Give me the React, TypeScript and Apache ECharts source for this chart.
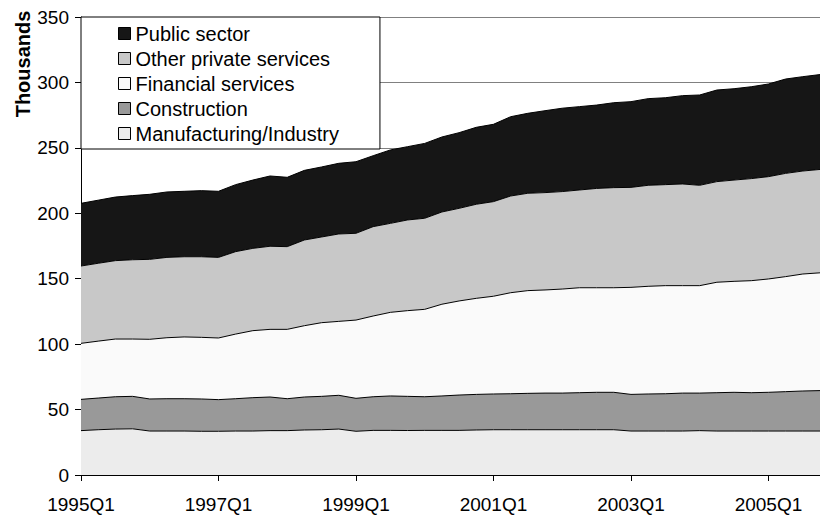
import React, { useEffect, useRef } from "react";
import * as echarts from "echarts";

// Quarterly employment by sector, thousands (1995Q1 – 2005Q4)
const years = [1995, 1996, 1997, 1998, 1999, 2000, 2001, 2002, 2003, 2004, 2005];
const quarters: string[] = [];
years.forEach((y) => {
  for (let q = 1; q <= 4; q++) quarters.push(`${y}Q${q}`);
});

const manufacturing = [
  33.9, 34.6, 35.1, 35.3, 33.6, 33.6, 33.6, 33.4, 33.4, 33.6, 33.6, 33.9, 33.9, 34.4, 34.6,
  35.1, 33.4, 34.1, 34.1, 34.0, 34.1, 34.1, 34.1, 34.4, 34.6, 34.6, 34.6, 34.6, 34.6, 34.6,
  34.6, 34.6, 33.6, 33.6, 33.6, 33.6, 33.9, 33.6, 33.6, 33.6, 33.6, 33.6, 33.6, 33.6,
];
const construction = [
  23.9, 24.2, 24.7, 24.8, 24.5, 24.7, 24.7, 24.7, 24.2, 24.7, 25.5, 25.7, 24.4, 25.2, 25.5,
  25.8, 25.2, 25.7, 26.3, 26.1, 25.7, 26.3, 27.0, 27.2, 27.3, 27.5, 27.8, 28.0, 28.0, 28.3,
  28.6, 28.6, 28.0, 28.3, 28.5, 29.0, 28.7, 29.3, 29.6, 29.3, 29.6, 30.1, 30.6, 30.9,
];
const financial = [
  42.8, 43.5, 44.1, 43.8, 45.6, 46.6, 47.2, 47.1, 47.1, 49.4, 51.2, 51.7, 53.0, 54.5, 56.3,
  56.5, 59.8, 61.7, 63.9, 65.5, 66.8, 70.1, 71.9, 73.4, 74.7, 77.2, 78.5, 78.8, 79.5, 80.2,
  79.9, 79.9, 81.8, 82.3, 82.6, 82.1, 82.1, 84.4, 84.8, 85.6, 86.6, 87.9, 89.4, 90.0,
];
const otherPrivate = [
  59.1, 59.5, 59.9, 60.6, 61.1, 61.4, 61.3, 61.6, 61.6, 63.0, 62.9, 63.5, 63.2, 65.5, 65.5,
  66.8, 66.3, 68.3, 68.0, 69.3, 69.6, 70.5, 70.8, 71.9, 72.3, 73.9, 74.4, 74.4, 74.5, 74.7,
  75.9, 76.5, 76.4, 77.2, 77.2, 77.7, 76.7, 76.9, 77.4, 78.0, 78.2, 78.9, 78.7, 79.0,
];
const publicSector = [
  47.9, 48.2, 48.6, 49.0, 49.7, 50.0, 50.0, 50.5, 50.5, 51.2, 52.2, 53.7, 53.0, 53.2, 53.5,
  54.0, 54.7, 54.2, 56.1, 56.0, 57.2, 57.3, 57.8, 58.8, 59.1, 60.6, 61.1, 62.6, 63.7, 63.7,
  63.7, 64.9, 65.5, 66.2, 66.4, 67.5, 69.0, 70.0, 69.8, 70.2, 70.8, 72.1, 72.1, 72.5,
];

const sectorNames = [
  "Manufacturing/Industry",
  "Construction",
  "Financial services",
  "Other private services",
  "Public sector",
];
const sectorData = [manufacturing, construction, financial, otherPrivate, publicSector];
const sectorFills = ["#ececec", "#999999", "#fafafa", "#c8c8c8", "#161616"];

const FONT = "'Liberation Sans', Arial, sans-serif";

export default function App() {
  const ref = useRef<HTMLDivElement>(null);

  useEffect(() => {
    if (!ref.current) return;
    const chart = echarts.init(ref.current, null, { renderer: "svg" });

    const series = sectorNames.map((name, i) => ({
      name,
      type: "line" as const,
      stack: "total",
      data: sectorData[i],
      symbol: "none",
      // lower layers sit above upper ones so every boundary line stays whole
      z: 6 - i,
      lineStyle: { color: "#000", width: 1 },
      itemStyle: { color: sectorFills[i] },
      areaStyle: { color: sectorFills[i], opacity: 1 },
      emphasis: { disabled: true },
    }));

    chart.setOption({
      animation: false,
      backgroundColor: "#fff",
      textStyle: { fontFamily: FONT, color: "#000" },
      grid: { left: 81, top: 17, width: 748, height: 458, containLabel: false },
      legend: {
        data: [...sectorNames].reverse(),
        orient: "vertical",
        left: 81,
        top: 17,
        z: 10,
        icon: "rect",
        itemWidth: 12,
        itemHeight: 12,
        itemGap: 5,
        padding: [6.5, 41, 5.5, 37],
        backgroundColor: "#fff",
        borderColor: "#000",
        borderWidth: 1,
        borderRadius: 0,
        selectedMode: false,
        itemStyle: { borderColor: "#000", borderWidth: 1 },
        textStyle: { fontFamily: FONT, fontSize: 20, lineHeight: 20, color: "#000" },
      },
      xAxis: {
        type: "category",
        data: quarters,
        boundaryGap: false,
        axisLine: { lineStyle: { color: "#000", width: 1 } },
        axisTick: { interval: 7, length: 6, lineStyle: { color: "#000" } },
        axisLabel: { interval: 7, fontSize: 19, color: "#000", margin: 20, fontFamily: FONT },
        splitLine: { show: false },
      },
      yAxis: {
        type: "value",
        min: 0,
        max: 350,
        interval: 50,
        axisLine: { show: true, lineStyle: { color: "#000", width: 1 } },
        axisTick: { show: true, length: 6, lineStyle: { color: "#000" } },
        axisLabel: {
          fontSize: 19,
          color: "#000",
          margin: 12,
          fontFamily: FONT,
          padding: [4, 0, 0, 0],
        },
        splitLine: { show: true, lineStyle: { color: "#808080", width: 1 } },
      },
      graphic: [
        {
          type: "text",
          x: 23,
          y: 64,
          rotation: Math.PI / 2,
          style: {
            text: "Thousands",
            font: `bold 20px ${FONT}`,
            fill: "#000",
            textAlign: "center",
            textVerticalAlign: "middle",
          },
        },
      ],
      series,
    });

    return () => chart.dispose();
  }, []);

  return (
    <div
      ref={ref}
      style={{ position: "fixed", left: 0, top: 0, width: 820, height: 517 }}
    />
  );
}
